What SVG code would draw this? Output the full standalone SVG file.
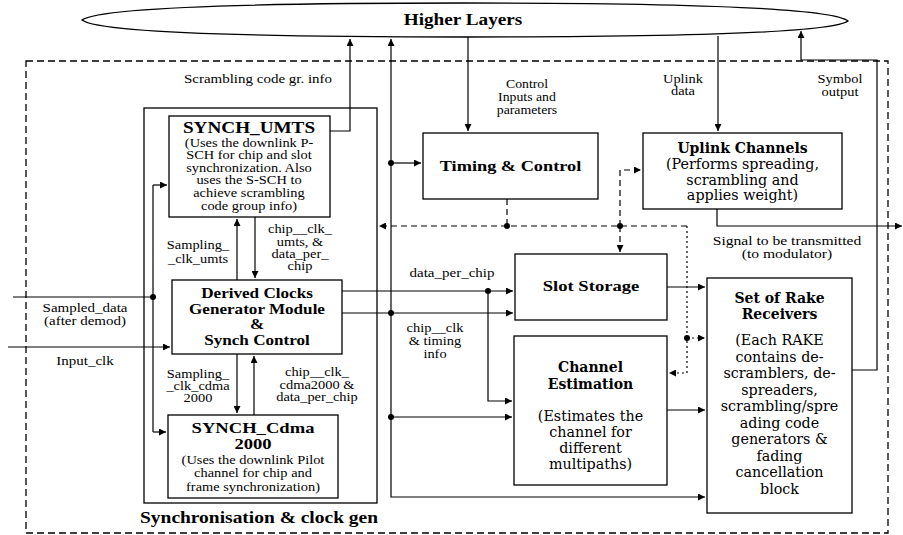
<svg xmlns="http://www.w3.org/2000/svg" width="903" height="535" viewBox="0 0 903 535">
<style>
 .box{fill:#fff;stroke:#000;stroke-width:1.3}
 .tb{font-family:"Liberation Serif",serif;font-weight:bold;text-anchor:middle;fill:#000}
 .tr{font-family:"Liberation Serif",serif;text-anchor:middle;fill:#000}
 .db{font-family:"DejaVu Serif",serif;font-weight:bold;text-anchor:middle;font-size:14px;fill:#000}
 .dr{font-family:"DejaVu Serif",serif;text-anchor:middle;font-size:14.3px;fill:#000}
 .c{fill:none;stroke:#000;stroke-width:1.2}
 .dash{stroke-dasharray:6 4}
 .dot{stroke-dasharray:2 3}
 .j{fill:#000;stroke:none}
</style>
<defs>
 <marker id="a" viewBox="0 0 10 10" refX="10" refY="5" markerWidth="8" markerHeight="7" markerUnits="userSpaceOnUse" orient="auto">
  <path d="M0,0 L10,5 L0,10 z" fill="#000"/>
 </marker>
</defs>
<rect x="0" y="0" width="903" height="535" fill="#fff"/>

<g id="higher-layers">
 <path d="M82,20 C100,6 300,3 465,3 C650,3 830,6 848,21 C830,34 650,37 465,37 C300,37 100,34 82,20 Z" fill="#fff" stroke="#000" stroke-width="1.3"/>
 <g transform="translate(463 0) scale(1.2 1)"><text class="tb" x="0" y="25" font-size="16">Higher Layers</text></g>
</g>

<g id="sync-region">
 <rect x="26" y="61" width="862" height="472" fill="none" stroke="#000" stroke-width="1.3" stroke-dasharray="7 4"/>
 <rect x="144" y="108" width="233" height="395" fill="none" stroke="#000" stroke-width="1.3"/>
 <g transform="translate(259 0) scale(1.18 1)"><text class="tb" x="0" y="523" font-size="16.5">Synchronisation &amp; clock gen</text></g>
</g>

<g id="synch-umts">
 <rect class="box" x="169" y="116" width="161" height="101"/>
 <g transform="translate(249 0) scale(1.2 1)">
  <text class="tb" x="0" y="133" font-size="16">SYNCH_UMTS</text>
  <g class="tr" font-size="12">
   <text x="0" y="147">(Uses the downlink P-</text>
   <text x="0" y="159.5">SCH for chip and slot</text>
   <text x="0" y="172">synchronization. Also</text>
   <text x="0" y="184.5">uses the S-SCH to</text>
   <text x="0" y="197.5">achieve scrambling</text>
   <text x="0" y="210">code group info)</text>
  </g>
 </g>
</g>

<g id="derived-clocks">
 <rect class="box" x="172" y="280" width="170" height="74"/>
 <g transform="translate(257 0) scale(1.18 1)" class="tb" font-size="14.5">
  <text x="0" y="298">Derived Clocks</text>
  <text x="0" y="314">Generator Module</text>
  <text x="0" y="329">&amp;</text>
  <text x="0" y="345">Synch Control</text>
 </g>
</g>

<g id="synch-cdma">
 <rect class="box" x="168" y="415" width="170" height="83"/>
 <g transform="translate(253 0) scale(1.24 1)">
  <text class="tb" x="0" y="433" font-size="15">SYNCH_Cdma</text>
  <text class="tb" x="0" y="449.5" font-size="15">2000</text>
 </g>
 <g transform="translate(253 0) scale(1.2 1)">
  <g class="tr" font-size="12">
   <text x="0" y="464">(Uses the downlink Pilot</text>
   <text x="0" y="477.5">channel for chip and</text>
   <text x="0" y="491">frame synchronization)</text>
  </g>
 </g>
</g>

<g id="timing-control">
 <rect class="box" x="423" y="133" width="175" height="66"/>
 <g transform="translate(510.5 0) scale(1.18 1)"><text class="tb" x="0" y="171" font-size="15.5">Timing &amp; Control</text></g>
</g>

<g id="uplink-channels">
 <rect class="box" x="643" y="133" width="199" height="76"/>
 <text class="db" x="742.5" y="153">Uplink Channels</text>
 <text class="dr" x="742.5" y="169">(Performs spreading,</text>
 <text class="dr" x="742.5" y="185">scrambling and</text>
 <text class="dr" x="742.5" y="200">applies weight)</text>
</g>

<g id="slot-storage">
 <rect class="box" x="515" y="254" width="152" height="66"/>
 <g transform="translate(591 0) scale(1.2 1)"><text class="tb" x="0" y="291" font-size="15.5">Slot Storage</text></g>
</g>

<g id="channel-estimation">
 <rect class="box" x="514" y="336" width="153" height="149"/>
 <text class="db" x="590.5" y="372">Channel</text>
 <text class="db" x="590.5" y="389">Estimation</text>
 <text class="dr" x="590.5" y="421">(Estimates the</text>
 <text class="dr" x="590.5" y="437">channel for</text>
 <text class="dr" x="590.5" y="453">different</text>
 <text class="dr" x="590.5" y="469">multipaths)</text>
</g>

<g id="rake-receivers">
 <rect class="box" x="707" y="278" width="145" height="235"/>
 <text class="db" x="779.5" y="303">Set of Rake</text>
 <text class="db" x="779.5" y="319">Receivers</text>
 <text class="dr" x="779.5" y="345">(Each RAKE</text>
 <text class="dr" x="779.5" y="362">contains de-</text>
 <text class="dr" x="779.5" y="378">scramblers, de-</text>
 <text class="dr" x="779.5" y="395">spreaders,</text>
 <text class="dr" x="779.5" y="411">scrambling/spre</text>
 <text class="dr" x="779.5" y="428">ading code</text>
 <text class="dr" x="779.5" y="444">generators &amp;</text>
 <text class="dr" x="779.5" y="461">fading</text>
 <text class="dr" x="779.5" y="477">cancellation</text>
 <text class="dr" x="779.5" y="494">block</text>
</g>

<g id="connectors">
 <g class="c">
  <path d="M330,131 H350 V39" marker-end="url(#a)"/>
  <path d="M391,313 V39" marker-end="url(#a)"/>
  <path d="M391,313 V497 H705" marker-end="url(#a)"/>
  <path d="M342,313 H513" marker-end="url(#a)"/>
  <path d="M391,163 H421" marker-end="url(#a)"/>
  <path d="M391,417 H512" marker-end="url(#a)"/>
  <path d="M342,291 H513" marker-end="url(#a)"/>
  <path d="M488,291 V401 H512" marker-end="url(#a)"/>
  <path d="M468,37 V131" marker-end="url(#a)"/>
  <path d="M718,36 V131" marker-end="url(#a)"/>
  <path d="M852,370 H877 V60 H801 V31" marker-end="url(#a)"/>
  <path d="M717,209 V226 H902" marker-end="url(#a)"/>
  <path d="M667,287 H705" marker-end="url(#a)"/>
  <path d="M667,410 H705" marker-end="url(#a)"/>
  <path d="M8,347 H170" marker-end="url(#a)"/>
  <path d="M13,297 H153"/>
  <path d="M153,185 V432"/>
  <path d="M153,185 H167" marker-end="url(#a)"/>
  <path d="M153,432 H166" marker-end="url(#a)"/>
  <path d="M237,280 V219" marker-end="url(#a)"/>
  <path d="M255,217 V278" marker-end="url(#a)"/>
  <path d="M237,354 V413" marker-end="url(#a)"/>
  <path d="M254,415 V356" marker-end="url(#a)"/>
  <path class="dash" d="M507,199 V226"/>
  <path class="dash" d="M687,226 H379" marker-end="url(#a)"/>
  <path class="dash" d="M620,226 V170 H641" marker-end="url(#a)"/>
  <path class="dash" d="M620,226 V252" marker-end="url(#a)"/>
  <path class="dot" d="M687,226 V373 H669" marker-end="url(#a)"/>
  <path class="dot" d="M687,338 H705" marker-end="url(#a)"/>
 </g>
 <g class="j">
  <circle cx="391" cy="163" r="3"/>
  <circle cx="391" cy="313" r="3"/>
  <circle cx="391" cy="417" r="3"/>
  <circle cx="488" cy="291" r="3"/>
  <circle cx="153" cy="297" r="3"/>
  <circle cx="507" cy="226" r="3"/>
  <circle cx="620" cy="226" r="3"/>
  <circle cx="687" cy="338" r="3"/>
 </g>
 <g class="tr" font-size="12">
  <g transform="translate(258 0) scale(1.2 1)"><text x="0" y="83" font-size="12.5">Scrambling code gr. info</text></g>
  <g transform="translate(527 0) scale(1.2 1)">
   <text x="0" y="88" font-size="11.5">Control</text>
   <text x="0" y="101" font-size="11.5">Inputs and</text>
   <text x="0" y="114" font-size="11.5">parameters</text>
  </g>
  <g transform="translate(683 0) scale(1.2 1)">
   <text x="0" y="83">Uplink</text>
   <text x="0" y="95">data</text>
  </g>
  <g transform="translate(840 0) scale(1.2 1)">
   <text x="0" y="83">Symbol</text>
   <text x="0" y="96">output</text>
  </g>
  <g transform="translate(787 0) scale(1.2 1)" font-size="13">
   <text x="0" y="245">Signal to be transmitted</text>
   <text x="0" y="258">(to modulator)</text>
  </g>
  <g transform="translate(452 0) scale(1.2 1)"><text x="0" y="277" font-size="12.5">data_per_chip</text></g>
  <g transform="translate(435 0) scale(1.2 1)">
   <text x="0" y="332">chip__clk</text>
   <text x="0" y="345">&amp; timing</text>
   <text x="0" y="358">info</text>
  </g>
  <g transform="translate(85 0) scale(1.2 1)" font-size="12.5">
   <text x="0" y="312">Sampled_data</text>
   <text x="0" y="325">(after demod)</text>
   <text x="0" y="365">Input_clk</text>
  </g>
  <g transform="translate(198 0) scale(1.2 1)">
   <text x="0" y="249">Sampling_</text>
   <text x="0" y="263">_clk_umts</text>
   <text x="0" y="378">Sampling_</text>
   <text x="0" y="390">_clk_cdma</text>
   <text x="0" y="402">2000</text>
  </g>
  <g transform="translate(300 0) scale(1.2 1)">
   <text x="0" y="233">chip__clk_</text>
   <text x="0" y="246">umts, &amp;</text>
   <text x="0" y="258">data_per_</text>
   <text x="0" y="270">chip</text>
  </g>
  <g transform="translate(317 0) scale(1.2 1)">
   <text x="0" y="376">chip__clk_</text>
   <text x="0" y="389">cdma2000 &amp;</text>
   <text x="0" y="401">data_per_chip</text>
  </g>
 </g>
</g>
</svg>
